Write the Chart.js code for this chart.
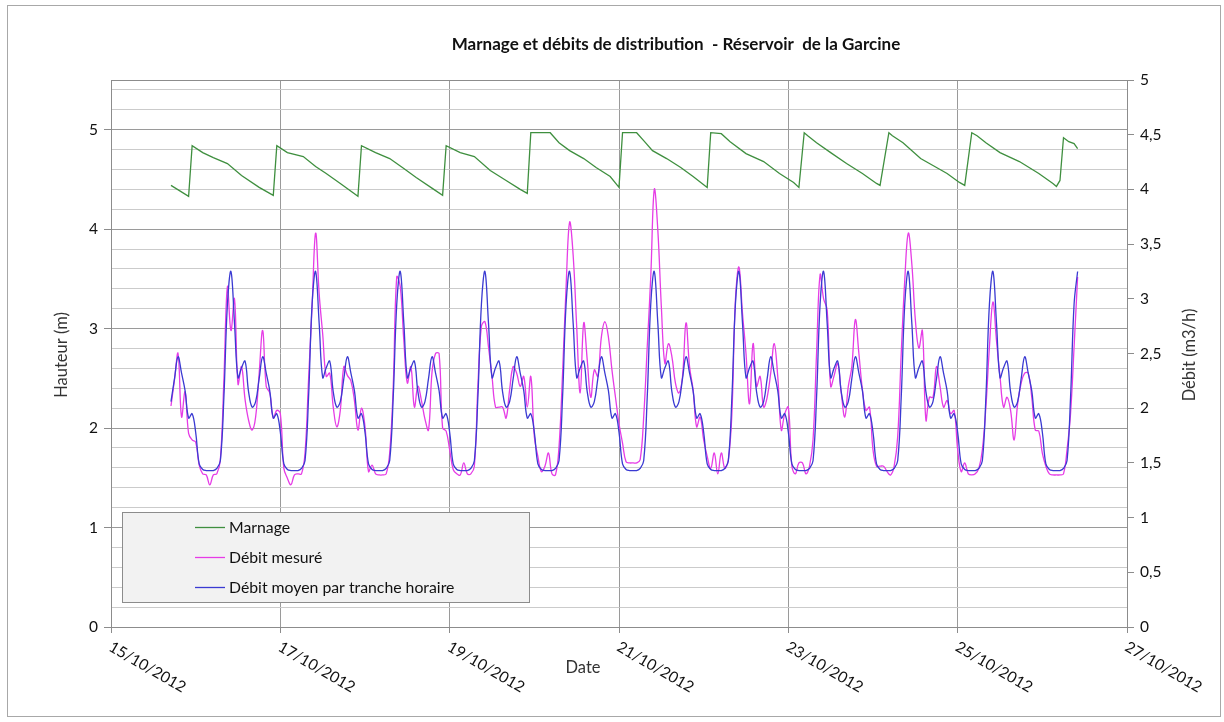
<!DOCTYPE html>
<html>
<head>
<meta charset="utf-8">
<script src="https://cdn.jsdelivr.net/npm/chart.js@4.4.0/dist/chart.umd.min.js"></script>
<style>
  body { margin: 0; background: #fff; }
  #wrap { width: 1224px; height: 722px; position: relative; }
</style>
</head>
<body>
<div id="wrap"><canvas id="chart"></canvas></div>
<script>
const titre = 'Marnage et débits de distribution  - Réservoir  de la Garcine';
const nomsSeries = ['Marnage', 'Débit mesuré', 'Débit moyen par tranche horaire'];

// x axis = hours since 15/10/2012 00:00
const xTickHours = [0, 48, 96, 144, 192, 240, 288];
const xTickLabels = ['15/10/2012', '17/10/2012', '19/10/2012', '21/10/2012', '23/10/2012', '25/10/2012', '27/10/2012'];

// Marnage (m), left axis
const marnageHeures = [17, 22, 23, 26, 29, 33, 37, 42, 46, 47, 50, 54.5, 58, 61, 65, 70, 71, 75, 79, 83, 86.5, 91.5, 94, 95,
  99, 103, 107.5, 112, 116, 118, 119, 124.5, 127, 130, 134, 137.5, 141.5, 144, 145, 149, 151, 153.5, 157.5, 161.5, 165,
  169, 170, 173, 175.5, 180, 185, 189.5, 193.5, 195, 196.5, 197.5, 200, 204, 208.5, 213, 217, 218, 220.5, 221.5, 224.5,
  229.5, 233, 237, 240.5, 242, 244, 245.5, 248, 252, 257.5, 263, 267, 268, 269, 270, 271.5, 273, 274];
const marnage = [4.44, 4.33, 4.84, 4.77, 4.72, 4.66, 4.54, 4.42, 4.34, 4.84, 4.77, 4.73, 4.63, 4.56, 4.46, 4.33, 4.84, 4.77, 4.71, 4.61, 4.52, 4.40, 4.34, 4.84,
  4.77, 4.73, 4.59, 4.49, 4.40, 4.36, 4.97, 4.97, 4.87, 4.79, 4.71, 4.62, 4.53, 4.42, 4.97, 4.97, 4.89, 4.79, 4.71, 4.62, 4.53,
  4.42, 4.97, 4.96, 4.88, 4.76, 4.68, 4.56, 4.47, 4.42, 4.97, 4.94, 4.87, 4.77, 4.66, 4.56, 4.46, 4.44, 4.97, 4.94, 4.87,
  4.71, 4.64, 4.56, 4.47, 4.44, 4.97, 4.94, 4.87, 4.77, 4.68, 4.56, 4.46, 4.43, 4.49, 4.92, 4.88, 4.86, 4.81];

// Débits (m3/h), right axis, hourly from 15/10 17:00 to 26/10 10:00
const debitDebutHeure = 17;
const debitMesure = [
  2.02, 2.26, 2.50, 1.92, 2.15, 1.77, 1.71,
  1.69, 1.48, 1.40, 1.39, 1.30, 1.39, 1.40, 1.53, 2.26, 3.11, 2.71, 3.00, 2.22, 2.38, 2.08, 1.89, 1.80, 1.92, 2.32, 2.71, 2.20, 2.14, 1.91, 1.98,
  1.95, 1.45, 1.36, 1.30, 1.39, 1.40, 1.40, 1.59, 2.26, 2.93, 3.60, 3.05, 2.68, 2.29, 2.32, 2.01, 1.83, 1.98, 2.38, 2.30, 2.25, 2.07, 1.80, 2.00,
  1.83, 1.42, 1.48, 1.40, 1.39, 1.39, 1.40, 1.59, 2.20, 3.20, 3.11, 2.62, 2.23, 2.38, 2.01, 2.20, 2.07, 1.90, 1.80, 2.33, 2.50, 2.50, 1.82, 1.79,
  1.62, 1.44, 1.40, 1.39, 1.50, 1.40, 1.40, 1.47, 2.20, 2.75, 2.79, 2.56, 2.29, 2.01, 2.01, 2.01, 1.91, 2.17, 2.38, 2.32, 2.20, 2.29, 2.01, 2.29,
  1.74, 1.56, 1.42, 1.47, 1.59, 1.40, 1.39, 1.65, 2.32, 3.11, 3.70, 3.40, 2.75, 2.14, 2.78, 2.44, 2.10, 2.35, 2.29, 2.65, 2.79, 2.65, 2.35, 2.10,
  1.86, 1.68, 1.51, 1.50, 1.50, 1.50, 1.53, 1.92, 2.56, 3.20, 4.00, 3.63, 2.93, 2.41, 2.59, 2.47, 2.23, 2.14, 2.29, 2.78, 2.38, 2.17, 1.83, 1.92,
  1.71, 1.56, 1.45, 1.59, 1.40, 1.59, 1.45, 1.53, 1.95, 2.99, 3.29, 2.87, 2.50, 2.04, 2.59, 2.20, 2.29, 2.01, 2.10, 2.32, 2.59, 2.29, 1.80, 1.95,
  2.01, 1.47, 1.40, 1.50, 1.50, 1.40, 1.47, 1.71, 2.50, 3.22, 3.00, 2.90, 2.20, 2.30, 2.41, 2.14, 1.92, 2.20, 2.38, 2.81, 2.50, 2.17, 1.98, 2.01,
  1.62, 1.47, 1.47, 1.47, 1.42, 1.39, 1.47, 1.74, 2.50, 3.17, 3.60, 3.32, 2.81, 2.55, 2.71, 1.89, 2.10, 2.10, 2.38, 2.20, 2.01, 2.07, 1.95, 1.98,
  1.62, 1.42, 1.50, 1.40, 1.39, 1.40, 1.45, 1.62, 2.01, 2.56, 2.97, 2.62, 2.29, 2.01, 2.10, 1.98, 1.71, 2.04, 2.23, 2.32, 2.32, 2.10, 1.80, 1.79,
  1.59, 1.47, 1.40, 1.39, 1.39, 1.39, 1.40, 1.62, 1.95, 2.56, 3.20
];
const debitMoyen = [
  2.06, 2.27, 2.47, 2.32, 2.16, 1.91, 1.95,
  1.78, 1.49, 1.44, 1.43, 1.43, 1.43, 1.45, 1.52, 2.10, 2.95, 3.25, 2.78, 2.28, 2.37, 2.43, 2.15, 2.01, 2.06, 2.27, 2.47, 2.32, 2.16, 1.91, 1.95,
  1.78, 1.49, 1.44, 1.43, 1.43, 1.43, 1.45, 1.52, 2.10, 2.95, 3.25, 2.78, 2.28, 2.37, 2.43, 2.15, 2.01, 2.06, 2.27, 2.47, 2.32, 2.16, 1.91, 1.95,
  1.78, 1.49, 1.44, 1.43, 1.43, 1.43, 1.45, 1.52, 2.10, 2.95, 3.25, 2.78, 2.28, 2.37, 2.43, 2.15, 2.01, 2.06, 2.27, 2.47, 2.32, 2.16, 1.91, 1.95,
  1.78, 1.49, 1.44, 1.43, 1.43, 1.43, 1.45, 1.52, 2.10, 2.95, 3.25, 2.78, 2.28, 2.37, 2.43, 2.15, 2.01, 2.06, 2.27, 2.47, 2.32, 2.16, 1.91, 1.95,
  1.78, 1.49, 1.44, 1.43, 1.43, 1.43, 1.45, 1.52, 2.10, 2.95, 3.25, 2.78, 2.28, 2.37, 2.43, 2.15, 2.01, 2.06, 2.27, 2.47, 2.32, 2.16, 1.91, 1.95,
  1.78, 1.49, 1.44, 1.43, 1.43, 1.43, 1.45, 1.52, 2.10, 2.95, 3.25, 2.78, 2.28, 2.37, 2.43, 2.15, 2.01, 2.06, 2.27, 2.47, 2.32, 2.16, 1.91, 1.95,
  1.78, 1.49, 1.44, 1.43, 1.43, 1.43, 1.45, 1.52, 2.10, 2.95, 3.25, 2.78, 2.28, 2.37, 2.43, 2.15, 2.01, 2.06, 2.27, 2.47, 2.32, 2.16, 1.91, 1.95,
  1.78, 1.49, 1.44, 1.43, 1.43, 1.43, 1.45, 1.52, 2.10, 2.95, 3.25, 2.78, 2.28, 2.37, 2.43, 2.15, 2.01, 2.06, 2.27, 2.47, 2.32, 2.16, 1.91, 1.95,
  1.78, 1.49, 1.44, 1.43, 1.43, 1.43, 1.45, 1.52, 2.10, 2.95, 3.25, 2.78, 2.28, 2.37, 2.43, 2.15, 2.01, 2.06, 2.27, 2.47, 2.32, 2.16, 1.91, 1.95,
  1.78, 1.49, 1.44, 1.43, 1.43, 1.43, 1.45, 1.52, 2.10, 2.95, 3.25, 2.78, 2.28, 2.37, 2.43, 2.15, 2.01, 2.06, 2.27, 2.47, 2.32, 2.16, 1.91, 1.95,
  1.78, 1.49, 1.44, 1.43, 1.43, 1.43, 1.45, 1.52, 2.10, 2.95, 3.25
];

const couleurs = ['#3f8f3f', '#e63ce6', '#3a3ad2'];
const police = 'Lato, "Liberation Sans", sans-serif';

const pts = (xs, ys) => ys.map((y, i) => ({ x: xs[i], y: y }));
const heuresDebit = debitMesure.map((_, i) => debitDebutHeure + i);
const entier = v => Math.abs(v - Math.round(v)) < 1e-6;

// background, frame, texts, legend and rotated date labels
const decor = {
  id: 'decor',
  beforeDraw(chart) {
    const c = chart.ctx;
    c.save();
    c.fillStyle = '#fff';
    c.fillRect(0, 0, chart.width, chart.height);
    c.strokeStyle = '#a8a8a8';
    c.lineWidth = 1;
    c.strokeRect(7.5, 5.5, 1213, 711);
    c.restore();
  },
  afterDraw(chart) {
    const c = chart.ctx, a = chart.chartArea, xs = chart.scales.x;
    c.save();
    c.strokeStyle = '#8c8c8c';
    c.lineWidth = 1;
    c.strokeRect(Math.round(a.left) + 0.5, Math.round(a.top) + 0.5, Math.round(a.right - a.left), Math.round(a.bottom - a.top));

    c.fillStyle = '#111';
    c.font = 'bold 17px ' + police;
    c.textAlign = 'center';
    c.textBaseline = 'middle';
    c.fillText(titre, 676, 45);

    c.font = '16.5px ' + police;
    c.fillStyle = '#333';
    c.fillText('Date', 583, 668);
    c.save();
    c.translate(62, 355);
    c.rotate(-Math.PI / 2);
    c.fillText('Hauteur (m)', 0, 0);
    c.restore();
    c.save();
    c.translate(1190, 355);
    c.rotate(-Math.PI / 2);
    c.fillText('Débit (m3/h)', 0, 0);
    c.restore();

    // date labels, slanted downwards
    c.font = '15.5px ' + police;
    c.fillStyle = '#111';
    c.textAlign = 'left';
    c.textBaseline = 'top';
    xTickHours.forEach((h, i) => {
      const px = xs.getPixelForValue(h);
      c.save();
      c.translate(px + 3, 639);
      c.rotate(Math.PI / 6);
      c.fillText(xTickLabels[i], 0, 0);
      c.restore();
    });

    // legend box
    c.fillStyle = '#f2f2f2';
    c.fillRect(122.5, 512.5, 407, 90);
    c.strokeStyle = '#8c8c8c';
    c.strokeRect(122.5, 512.5, 407, 90);
    const ly = [527, 557, 587];
    c.font = '15.8px ' + police;
    c.textBaseline = 'middle';
    nomsSeries.forEach((n, i) => {
      c.strokeStyle = couleurs[i];
      c.lineWidth = 1.3;
      c.beginPath();
      c.moveTo(195, ly[i] + 0.5);
      c.lineTo(225, ly[i] + 0.5);
      c.stroke();
      c.fillStyle = '#111';
      c.fillText(n, 229, ly[i] + 1);
    });
    c.restore();
  }
};

const ctx = document.getElementById('chart').getContext('2d');

new Chart(ctx, {
  type: 'line',
  data: {
    datasets: [{
      label: nomsSeries[0],
      data: pts(marnageHeures, marnage),
      yAxisID: 'yLeft',
      borderColor: couleurs[0],
      borderWidth: 1.3,
      tension: 0,
      order: 0
    }, {
      label: nomsSeries[1],
      data: pts(heuresDebit, debitMesure),
      yAxisID: 'yRight',
      borderColor: couleurs[1],
      borderWidth: 1.3,
      tension: 0.4,
      order: 2
    }, {
      label: nomsSeries[2],
      data: pts(heuresDebit, debitMoyen),
      yAxisID: 'yRight',
      borderColor: couleurs[2],
      borderWidth: 1.3,
      tension: 0.4,
      order: 1
    }]
  },
  options: {
    responsive: true,
    maintainAspectRatio: false,
    animation: false,
    layout: { padding: { top: 80, left: 0, right: 0, bottom: 0 } },
    elements: { point: { radius: 0 } },
    plugins: {
      legend: { display: false },
      title: { display: false },
      tooltip: { enabled: false }
    },
    scales: {
      x: {
        type: 'linear',
        min: 0,
        max: 288,
        ticks: { display: false, stepSize: 48 },
        grid: { color: '#9a9a9a', tickLength: 6, tickColor: '#8c8c8c' },
        border: { color: '#8c8c8c' },
        afterFit: s => { s.height = 95; }
      },
      yLeft: {
        position: 'left',
        min: 0,
        max: 5.5,
        afterBuildTicks: s => {
          const t = [];
          for (let i = 0; i <= 27; i++) t.push({ value: Math.round(i * 2) / 10 });
          t.push({ value: 5.5 });
          s.ticks = t;
        },
        ticks: {
          autoSkip: false,
          color: '#111',
          padding: 6,
          font: { family: police, size: 15.5 },
          callback: v => entier(v) ? String(Math.round(v)) : ''
        },
        grid: {
          color: c => c.tick && entier(c.tick.value) ? '#9a9a9a' : '#cbcbcb',
          tickColor: c => c.tick && entier(c.tick.value) ? '#8c8c8c' : 'rgba(0,0,0,0)',
          tickLength: 7
        },
        border: { color: '#8c8c8c' },
        afterFit: s => { s.width = 111; }
      },
      yRight: {
        position: 'right',
        min: 0,
        max: 5,
        ticks: {
          stepSize: 0.5,
          autoSkip: false,
          color: '#111',
          padding: 6,
          font: { family: police, size: 15.5 },
          callback: v => String(v).replace('.', ',')
        },
        grid: { drawOnChartArea: false, tickLength: 7, color: '#8c8c8c' },
        border: { color: '#8c8c8c' },
        afterFit: s => { s.width = 97; }
      }
    }
  },
  plugins: [decor]
});
</script>
</body>
</html>
